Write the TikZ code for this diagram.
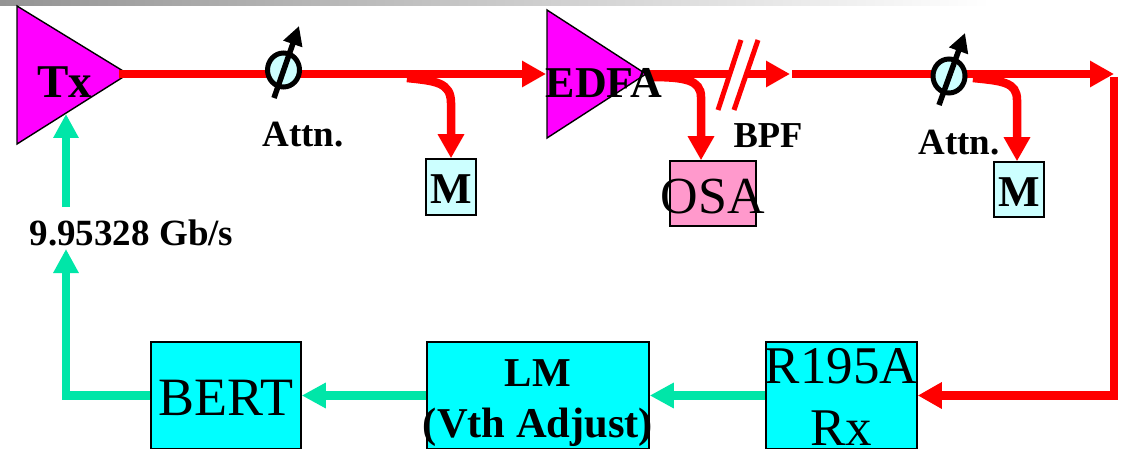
\documentclass[tikz,border=0pt]{standalone}
\usepackage{fontspec}
\setmainfont{Liberation Serif}
\usetikzlibrary{arrows.meta,shapes.geometric}
\definecolor{amp}{HTML}{FF00FF}
\definecolor{sea}{HTML}{00E6A8}
\definecolor{pale}{HTML}{CCFFFF}
\definecolor{rose}{HTML}{FF99CC}
\definecolor{cyanbox}{HTML}{00FFFF}
\newcommand{\fs}[1]{\fontsize{#1}{#1}\selectfont}
\newcommand{\wide}[1]{\makebox[0pt]{#1}}
\newcommand{\twolines}[3]{\makebox[0pt]{\raisebox{#3}{\makebox[0pt]{#1}}\makebox[0pt]{#2}}}
\tikzset{
  x=1pt,y=-1pt,
  ampl/.style={draw=black,line width=1.4pt,fill=amp,line join=miter},
  blockbox/.style={draw=black,line width=1.5pt,inner sep=0pt,anchor=center},
  lbl/.style={inner sep=0pt,anchor=base,text=black},
  redline/.style={draw=red,line width=8.5pt},
  sealine/.style={draw=sea,line width=8.5pt},
  redtip/.style={-{Triangle[length=24pt,width=25pt,fill=red]}},
  seatip/.style={-{Triangle[length=24pt,width=24pt,fill=sea]}},
  atten/.style={draw=black,line width=5pt,fill=pale,ellipse,inner sep=0pt,minimum width=32pt,minimum height=34pt},
  knob/.style={draw=black,line width=5.5pt,-{Triangle[length=19pt,width=19pt,fill=black]}}
}
\begin{document}
\begin{tikzpicture}
\useasboundingbox (0,0) rectangle (1123,449);
\fill[white] (0,0) rectangle (1123,449);
\shade[left color=black!42,right color=white] (0,0) rectangle (990,6);
% amplifiers
\draw[ampl] (17,6) -- (128,74) -- (17,144) -- cycle;
\draw[ampl] (547,10) -- (646,74) -- (547,138) -- cycle;
% coordinates
\coordinate (txout) at (119,74);
\coordinate (txin) at (66,114);
\coordinate (edin) at (546,74);
\coordinate (edout) at (646,74);
\coordinate (b1) at (407,78);
\coordinate (b1v) at (451,103);
\coordinate (b2) at (650,77);
\coordinate (b2v) at (701,97);
\coordinate (b3) at (973,78);
\coordinate (b3v) at (1017,100);
\coordinate (fl) at (731,74);
\coordinate (fr) at (746,74);
\coordinate (fhead) at (790,74);
\coordinate (next) at (792,74);
\coordinate (endtop) at (1114,74);
\coordinate (dropt) at (1114,77);
\coordinate (rateb) at (66,207);
\coordinate (ratet) at (66,249);
% boxes
\node[blockbox,fill=pale,minimum width=50pt,text height=44pt,text depth=12pt] (m1) at (451,187) {\fs{44}\bfseries M};
\node[blockbox,fill=pale,minimum width=50pt,text height=44pt,text depth=11pt] (m2) at (1019,189.5) {\fs{44}\bfseries M};
\node[blockbox,fill=rose,minimum width=86pt,text height=52pt,text depth=13pt] (osa) at (713,193.5) {\fs{52}\wide{OSA}};
\node[blockbox,fill=cyanbox,minimum width=150pt,text height=73pt,text depth=34pt] (bert) at (226,395.5) {\fs{54}\wide{BERT}};
\node[blockbox,fill=cyanbox,minimum width=222pt,text height=95pt,text depth=12pt] (lm) at (538,395.5) {\twolines{\fs{41}\bfseries LM}{\fs{42.5}\bfseries (Vth Adjust)}{51pt}};
\node[blockbox,fill=cyanbox,minimum width=151pt,text height=103pt,text depth=4pt] (rx) at (841.5,395.5) {\twolines{\fs{53}R195A}{\fs{53}Rx}{62pt}};
% red path
\draw[redline,redtip] (b1) .. controls (435,81) and (451,82) .. (b1v) -- (b1v |- m1.north);
\draw[redline,redtip] (b2) .. controls (685,77) and (701,80) .. (b2v) -- (b2v |- osa.north);
\draw[redline,redtip] (b3) .. controls (1002,81) and (1017,82) .. (b3v) -- (b3v |- m2.north);
\draw[redline,redtip] (txout) -- (edin);
\draw[redline] (edout) -- (fl);
\draw[redline,redtip] (fr) -- (fhead);
\draw[redline,redtip] (next) -- (endtop);
\draw[red,line width=5pt] (741,40) -- (718,110);
\draw[red,line width=5pt] (758,40) -- (734,110);
\draw[redline,redtip] (dropt) -- (dropt |- rx.east) -- (rx.east);
% green path
\draw[sealine,seatip] (rx.west) -- (lm.east);
\draw[sealine,seatip] (lm.west) -- (bert.east);
\draw[sealine,seatip] (bert.west) -- (ratet |- bert.west) -- (ratet);
\draw[sealine,seatip] (rateb) -- (txin);
% attenuators
\node[atten] (a1) at (283.5,70) {};
\draw[knob] (274,98) -- (299,26);
\node[atten] (a2) at (949,76) {};
\draw[knob] (939,105) -- (965,33);
% labels
\node[lbl] (txt) at (65,98) {\fs{47}\bfseries Tx};
\node[lbl] (edfa) at (604,98) {\fs{44}\bfseries EDFA};
\node[lbl] (att1) at (303,147) {\fs{37}\bfseries Attn.};
\node[lbl] (att2) at (959,155) {\fs{37}\bfseries Attn.};
\node[lbl] (bpf) at (768,148) {\fs{36.5}\bfseries BPF};
\node[lbl] (rate) at (131.5,245) {\fs{37}\bfseries 9.95328 Gb/s};
\end{tikzpicture}
\end{document}
